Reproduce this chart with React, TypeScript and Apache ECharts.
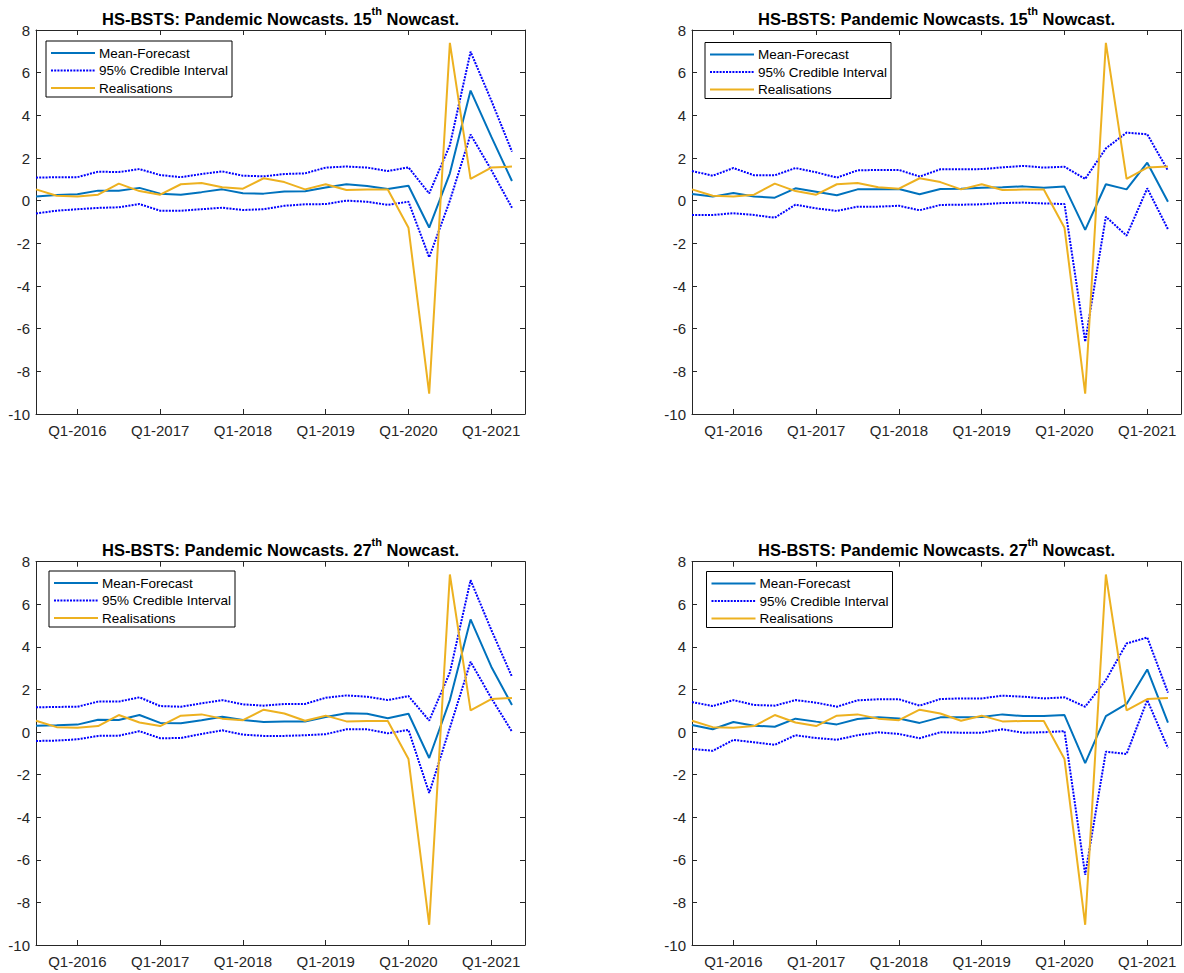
import React, { useEffect, useRef } from 'react';
import * as echarts from 'echarts';

const quarters = [
  'Q3-2015', 'Q4-2015',
  'Q1-2016', 'Q2-2016', 'Q3-2016', 'Q4-2016',
  'Q1-2017', 'Q2-2017', 'Q3-2017', 'Q4-2017',
  'Q1-2018', 'Q2-2018', 'Q3-2018', 'Q4-2018',
  'Q1-2019', 'Q2-2019', 'Q3-2019', 'Q4-2019',
  'Q1-2020', 'Q2-2020', 'Q3-2020', 'Q4-2020',
  'Q1-2021', 'Q2-2021',
];

const realisations = [0.53, 0.23, 0.2, 0.28, 0.8, 0.45, 0.28, 0.77, 0.83, 0.63, 0.56, 1.05, 0.87, 0.53, 0.77, 0.5, 0.52, 0.52, -1.27, -9.05, 7.4, 1.02, 1.55, 1.6];

// 15th nowcast, left panel
const meanA = [0.19, 0.27, 0.3, 0.47, 0.47, 0.6, 0.33, 0.28, 0.4, 0.53, 0.35, 0.33, 0.43, 0.44, 0.62, 0.77, 0.69, 0.55, 0.7, -1.26, 1.28, 5.16, 3.0, 0.92];
const upperA = [1.08, 1.1, 1.1, 1.36, 1.34, 1.48, 1.2, 1.1, 1.25, 1.37, 1.17, 1.14, 1.25, 1.28, 1.55, 1.6, 1.55, 1.39, 1.56, 0.34, 2.6, 6.98, 4.7, 2.3];
const lowerA = [-0.6, -0.47, -0.4, -0.34, -0.31, -0.16, -0.47, -0.47, -0.4, -0.33, -0.44, -0.4, -0.24, -0.17, -0.16, 0.0, -0.05, -0.2, -0.05, -2.65, 0.0, 3.1, 1.44, -0.33];

// 15th nowcast, right panel
const meanB = [0.31, 0.19, 0.36, 0.2, 0.14, 0.58, 0.42, 0.25, 0.53, 0.53, 0.55, 0.3, 0.55, 0.56, 0.61, 0.63, 0.67, 0.61, 0.66, -1.37, 0.77, 0.53, 1.78, -0.05];
const upperB = [1.39, 1.17, 1.53, 1.19, 1.19, 1.53, 1.33, 1.08, 1.42, 1.44, 1.44, 1.13, 1.47, 1.47, 1.48, 1.56, 1.63, 1.55, 1.59, 1.02, 2.45, 3.19, 3.11, 1.41];
const lowerB = [-0.67, -0.67, -0.59, -0.67, -0.8, -0.19, -0.36, -0.48, -0.28, -0.28, -0.24, -0.45, -0.2, -0.19, -0.17, -0.11, -0.09, -0.13, -0.16, -6.61, -0.75, -1.64, 0.58, -1.34];

// 27th nowcast, left panel
const meanC = [0.3, 0.32, 0.35, 0.58, 0.57, 0.8, 0.43, 0.41, 0.55, 0.72, 0.57, 0.47, 0.5, 0.5, 0.71, 0.88, 0.86, 0.65, 0.86, -1.22, 1.5, 5.29, 3.07, 1.27];
const upperC = [1.16, 1.18, 1.19, 1.43, 1.43, 1.63, 1.22, 1.19, 1.35, 1.5, 1.3, 1.24, 1.32, 1.32, 1.61, 1.72, 1.66, 1.5, 1.69, 0.54, 2.8, 7.13, 4.8, 2.6];
const lowerC = [-0.42, -0.4, -0.34, -0.18, -0.17, 0.04, -0.29, -0.28, -0.09, 0.08, -0.12, -0.18, -0.18, -0.15, -0.1, 0.13, 0.13, -0.06, 0.1, -2.86, 0.2, 3.3, 1.6, 0.02];

// 27th nowcast, right panel
const meanD = [0.33, 0.13, 0.47, 0.3, 0.25, 0.63, 0.49, 0.36, 0.61, 0.69, 0.64, 0.43, 0.69, 0.69, 0.71, 0.83, 0.75, 0.75, 0.8, -1.46, 0.75, 1.32, 2.94, 0.44];
const upperD = [1.41, 1.22, 1.5, 1.27, 1.24, 1.5, 1.38, 1.19, 1.49, 1.54, 1.54, 1.24, 1.55, 1.58, 1.58, 1.71, 1.66, 1.58, 1.63, 1.19, 2.44, 4.16, 4.44, 1.85];
const lowerD = [-0.79, -0.88, -0.37, -0.48, -0.6, -0.15, -0.28, -0.36, -0.15, -0.01, -0.09, -0.29, -0.01, -0.03, -0.03, 0.13, -0.03, -0.01, 0.04, -6.7, -0.92, -1.03, 1.5, -0.75];

const nowcastLabels = ['15', '15', '27', '27'];
const legendNames = ['Mean-Forecast', '95% Credible Interval', 'Realisations'];
const yTicks = { min: -10, max: 8, interval: 2 };

const MEAN_COLOR = '#0072BD';
const CI_COLOR = '#0000FF';
const REAL_COLOR = '#EDB120';
const AXIS_COLOR = '#262626';
const FONT = '"Liberation Sans", Arial, Helvetica, sans-serif';
const DOT = [2, 1.2];

export default function App() {
  const ref = useRef<HTMLDivElement>(null);

  useEffect(() => {
    if (!ref.current) return;
    const chart = echarts.init(ref.current, null, { renderer: 'svg' });

    const tickIdx = quarters.map((q, i) => (q.startsWith('Q1') ? i : -1)).filter((i) => i >= 0);

    const panels = [
      { mean: meanA, upper: upperA, lower: lowerA, left: 36, top: 30, height: 384, lg: [46, 41] },
      { mean: meanB, upper: upperB, lower: lowerB, left: 692, top: 30, height: 384, lg: [705, 42.5] },
      { mean: meanC, upper: upperC, lower: lowerC, left: 36, top: 561.7, height: 383.3, lg: [49, 571] },
      { mean: meanD, upper: upperD, lower: lowerD, left: 692, top: 561.7, height: 383.3, lg: [706.5, 571.5] },
    ];
    const W = 489;
    const xMax = 23.63;

    const grid: any[] = [];
    const xAxis: any[] = [];
    const yAxis: any[] = [];
    const series: any[] = [];
    const graphic: any[] = [];

    panels.forEach((p, gi) => {
      grid.push({ left: p.left, top: p.top, width: W, height: p.height, containLabel: false });
      const baseX = {
        type: 'value',
        gridIndex: gi,
        min: 0,
        max: xMax,
        splitLine: { show: false },
        axisLine: { show: true, onZero: false, lineStyle: { color: AXIS_COLOR, width: 1 } },
        axisTick: { show: true, inside: true, length: 5, customValues: tickIdx, lineStyle: { color: AXIS_COLOR } },
      };
      xAxis.push({
        ...baseX,
        position: 'bottom',
        axisLabel: {
          show: true,
          customValues: tickIdx,
          formatter: (v: number) => quarters[Math.round(v)] || '',
          color: AXIS_COLOR,
          fontSize: 15,
          fontFamily: FONT,
          margin: 9,
        },
      });
      xAxis.push({ ...baseX, position: 'top', axisLabel: { show: false } });
      const baseY = {
        type: 'value',
        gridIndex: gi,
        min: yTicks.min,
        max: yTicks.max,
        interval: yTicks.interval,
        splitLine: { show: false },
        axisLine: { show: true, onZero: false, lineStyle: { color: AXIS_COLOR, width: 1 } },
        axisTick: { show: true, inside: true, length: 5, lineStyle: { color: AXIS_COLOR } },
      };
      yAxis.push({
        ...baseY,
        position: 'left',
        axisLabel: { show: true, color: AXIS_COLOR, fontSize: 15, fontFamily: FONT, margin: 6 },
      });
      yAxis.push({ ...baseY, position: 'right', axisLabel: { show: false } });

      const ax = gi * 2;
      const mk = (name: string, arr: number[], color: string, dash: any) => ({
        name,
        type: 'line',
        xAxisIndex: ax,
        yAxisIndex: ax,
        data: arr.map((v, i) => [i, v]),
        symbol: 'none',
        showSymbol: false,
        silent: true,
        lineStyle: { color, width: 2, type: dash },
        z: 3,
      });
      series.push(mk(legendNames[0], p.mean, MEAN_COLOR, 'solid'));
      series.push(mk(legendNames[1], p.upper, CI_COLOR, DOT));
      series.push(mk(legendNames[1] + ' lower', p.lower, CI_COLOR, DOT));
      series.push(mk(legendNames[2], realisations, REAL_COLOR, 'solid'));

      // Title
      graphic.push({
        type: 'text',
        x: p.left + W / 2,
        y: p.top - 14,
        style: {
          text: `{a|HS-BSTS: Pandemic Nowcasts. ${nowcastLabels[gi]}}{s|th}{a| Nowcast.}`,
          align: 'center',
          verticalAlign: 'middle',
          fill: '#000',
          rich: {
            a: { fontSize: 16.5, fontWeight: 'bold', fontFamily: FONT, lineHeight: 22, verticalAlign: 'bottom', fill: '#000' },
            s: { fontSize: 11, fontWeight: 'bold', fontFamily: FONT, lineHeight: 13, verticalAlign: 'top', fill: '#000' },
          },
        },
      });

      // Legend box
      const [lx, ly] = p.lg;
      const rows = [12, 29.5, 47];
      const children: any[] = [
        { type: 'rect', shape: { x: 0, y: 0, width: 186, height: 56 }, style: { fill: '#fff', stroke: '#000', lineWidth: 1 } },
      ];
      const colors = [MEAN_COLOR, CI_COLOR, REAL_COLOR];
      rows.forEach((ry, k) => {
        children.push({
          type: 'line',
          shape: { x1: 5, y1: ry, x2: 49, y2: ry },
          style: { stroke: colors[k], lineWidth: 2, lineDash: k === 1 ? DOT : null },
        });
        children.push({
          type: 'text',
          x: 53,
          y: ry,
          style: { text: legendNames[k], fontSize: 13.5, fontFamily: FONT, fill: '#000', verticalAlign: 'middle', align: 'left' },
        });
      });
      graphic.push({ type: 'group', x: lx, y: ly, z: 10, children });
    });

    chart.setOption({
      animation: false,
      backgroundColor: '#fff',
      grid,
      xAxis,
      yAxis,
      series,
      graphic,
    });

    return () => chart.dispose();
  }, []);

  return <div ref={ref} style={{ position: 'absolute', left: 0, top: 0, width: 1184, height: 973 }} />;
}
